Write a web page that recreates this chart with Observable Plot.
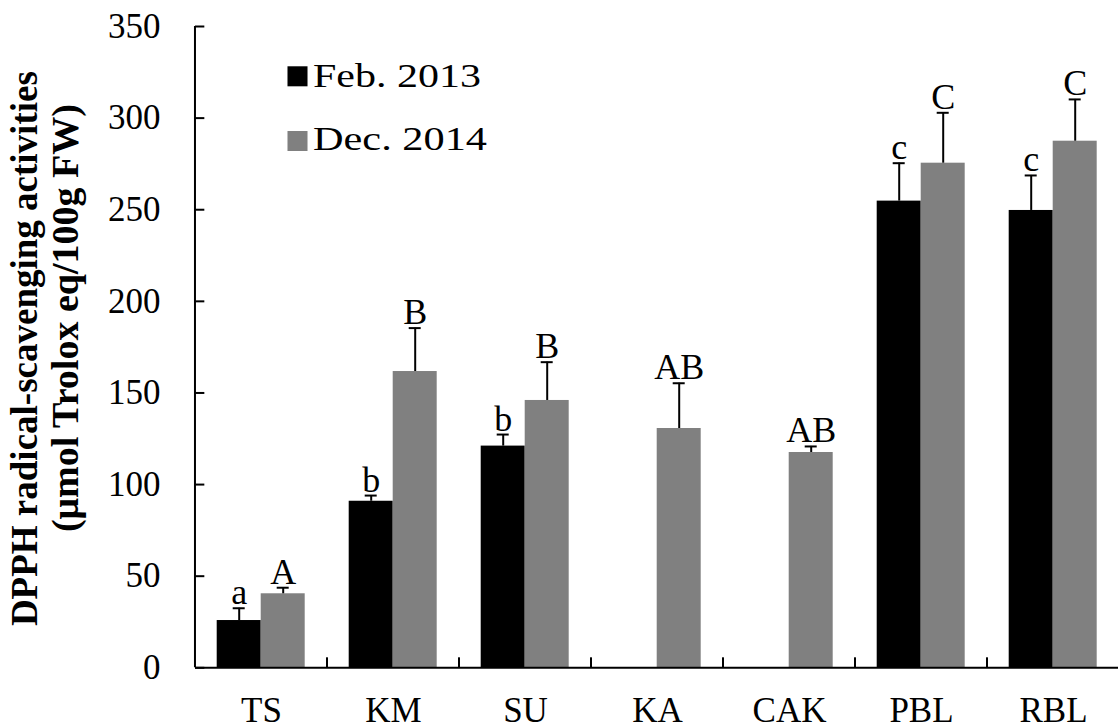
<!DOCTYPE html>
<html>
<head>
<meta charset="utf-8">
<script src="https://cdn.jsdelivr.net/npm/d3@7"></script>
<script src="https://cdn.jsdelivr.net/npm/@observablehq/plot@0.6"></script>
<style>
  body { margin: 0; background: #fff; }
  #chart svg { display: block; }
</style>
</head>
<body>
<div id="chart"></div>
<script>
// Samples and the two sampling dates
const categories = ["TS", "KM", "SU", "KA", "CAK", "PBL", "RBL"];
const series = ["Feb. 2013", "Dec. 2014"];
const colors = ["#000000", "#808080"];

// DPPH radical-scavenging activity (µmol Trolox eq/100g FW), mean and SD
const feb2013 = [25.8, 90.9, 121.0, null, null, 254.7, 249.6];
const feb2013Sd = [6.7, 3.1, 6.3, null, null, 20.7, 19.1];
const dec2014 = [40.4, 161.7, 145.9, 130.6, 117.5, 275.4, 287.4];
const dec2014Sd = [3.3, 23.7, 20.9, 24.7, 3.3, 27.5, 22.8];

// Significance letters
const feb2013Letters = ["a", "b", "b", "", "", "c", "c"];
const dec2014Letters = ["A", "B", "B", "AB", "AB", "C", "C"];

const yTicks = [0, 50, 100, 150, 200, 250, 300, 350];
const yLabel1 = "DPPH radical-scavenging activities";
const yLabel2 = "(μmol Trolox eq/100g FW)";

// Long-format rows for Plot
const rows = [];
categories.forEach((c, i) => {
  if (feb2013[i] != null) rows.push({category: c, series: series[0], value: feb2013[i], sd: feb2013Sd[i], letter: feb2013Letters[i]});
  if (dec2014[i] != null) rows.push({category: c, series: series[1], value: dec2014[i], sd: dec2014Sd[i], letter: dec2014Letters[i]});
});

const width = 1118, height = 728;
const marginLeft = 192.3, marginRight = -3, marginTop = 26, marginBottom = 60.7;
const step = (width - marginLeft - marginRight) / categories.length;
const plotH = height - marginTop - marginBottom;
const serif = "'Liberation Serif', 'Times New Roman', serif";
const first = () => categories[0];

const chart = Plot.plot({
  width, height, marginLeft, marginRight, marginTop, marginBottom,
  style: {fontFamily: serif, fontSize: "35px", color: "#000", background: "#fff", overflow: "visible"},
  fx: {domain: categories, padding: 0, label: null},
  x: {domain: series, paddingInner: 0, paddingOuter: 0.5, axis: null},
  y: {domain: [0, 350], label: null},
  color: {domain: series, range: colors},
  marks: [
    Plot.barY(rows, {fx: "category", x: "series", y: "value", fill: "series"}),
    // error bars (upper half) with caps
    Plot.ruleX(rows, {fx: "category", x: "series", y1: "value", y2: d => d.value + d.sd, stroke: "#000", strokeWidth: 2}),
    Plot.tickY(rows, {fx: "category", x: "series", y: d => d.value + d.sd, stroke: "#000", strokeWidth: 2, insetLeft: 16, insetRight: 16}),
    Plot.text(rows, {fx: "category", x: "series", y: d => d.value + d.sd, text: "letter", lineAnchor: "bottom", dy: -4, fontSize: 36, fill: "#000"}),
    // x axis line and inward category separators
    Plot.ruleY([0], {stroke: "#000", strokeWidth: 2}),
    Plot.ruleX(categories.slice(1), {fx: d => d, x: () => series[0], dx: -step / 3, y1: 350, y2: 0, insetTop: plotH - 10, stroke: "#000", strokeWidth: 2}),
    // y axis line, inward ticks and labels
    Plot.ruleX([0], {fx: first, x: () => series[0], dx: -step / 3, y1: 350, y2: 0, stroke: "#000", strokeWidth: 2}),
    Plot.tickY(yTicks, {fx: first, y: d => d, insetRight: step - 10, stroke: "#000", strokeWidth: 2}),
    Plot.axisY({ticks: yTicks, tickSize: 0, tickPadding: 35, fontSize: 35, label: null, tickFormat: d => d}),
    Plot.axisFx({anchor: "bottom", tickSize: 0, tickPadding: 29, fontSize: 35, label: null}),
    // y axis title (two lines)
    Plot.text([yLabel1], {fx: first, frameAnchor: "left", text: d => d, rotate: -90, textAnchor: "middle", dx: 33.5 - marginLeft, dy: 1.5, lineAnchor: "bottom", fontSize: 37, fontWeight: "bold", fill: "#000"}),
    Plot.text([yLabel2], {fx: first, frameAnchor: "left", text: d => d, rotate: -90, textAnchor: "middle", dx: 75 - marginLeft, dy: -29, lineAnchor: "bottom", fontSize: 38, fontWeight: "bold", fill: "#000"}),
    // legend
    ...series.map((s, i) => Plot.dot([s], {fx: first, frameAnchor: "top-left", dx: 102, dy: 49.8 + i * 64.7, symbol: "square", r: 11.3, fill: d => d})),
    ...series.map((s, i) => Plot.text([s], {fx: first, frameAnchor: "top-left", dx: 117.5, dy: 60 + i * 63.3, text: d => d, textAnchor: "start", lineAnchor: "bottom", fontSize: 34, fill: "#000", ariaDescription: "legend"}))
  ]
});

// the legend entries are set slightly wide
const legendWidths = [168, 174];
d3.select(chart).selectAll('g[aria-description="legend"]').each(function(_, i) {
  d3.select(this).selectAll("text")
    .attr("textLength", legendWidths[i])
    .attr("lengthAdjust", "spacingAndGlyphs");
});

document.getElementById("chart").append(chart);
</script>
</body>
</html>
